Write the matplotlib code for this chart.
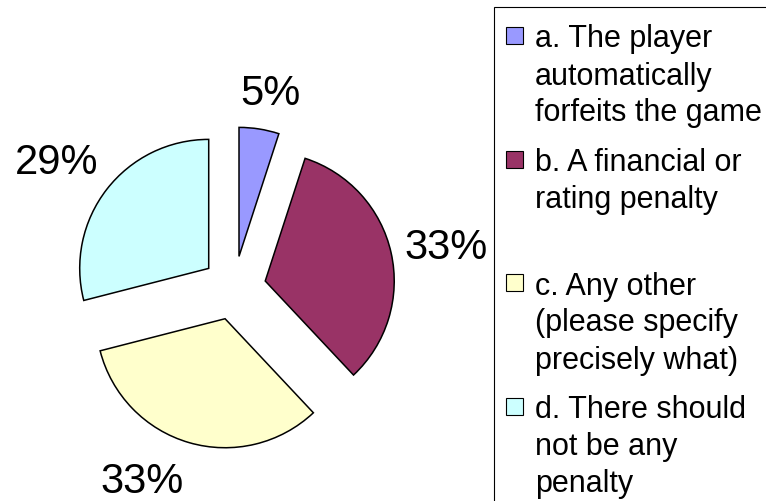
import numpy as np
import matplotlib
matplotlib.use('Agg')
import matplotlib.pyplot as plt
from matplotlib.patches import Rectangle

plt.rcParams['font.family'] = ['Liberation Sans', 'DejaVu Sans']

# ---- data ----
categories = ["a. The player\nautomatically\nforfeits the game",
              "b. A financial or\nrating penalty",
              "c. Any other\n(please specify\nprecisely what)",
              "d. There should\nnot be any\npenalty"]
values = [5, 33, 33, 29]
colors = ['#9999FF', '#993366', '#FFFFCC', '#CCFFFF']

# ---- layout (pixels) ----
W, H = 766, 502
R = 129
center = (234, H - 289)
explode_px = 32
label_radius = [1.29, 1.43, 1.41, 1.44]
label_shift_deg = [-2, -2, -11, 3]

fig = plt.figure(figsize=(W / 100, H / 100), dpi=100)
ax = fig.add_axes([0, 0, 1, 1])

wedges, _ = ax.pie(values, colors=colors, startangle=90, counterclock=False,
                   radius=R, center=center, explode=[explode_px] * len(values),
                   wedgeprops=dict(edgecolor='black', linewidth=1.1))
ax.set_xlim(0, W)
ax.set_ylim(0, H)
ax.set_aspect('equal')
ax.axis('off')

total = sum(values)
for w, v, rf, sh in zip(wedges, values, label_radius, label_shift_deg):
    th = np.deg2rad((w.theta1 + w.theta2) / 2 + sh)
    cx, cy = w.center
    ax.text(cx + R * rf * np.cos(th), cy + R * rf * np.sin(th),
            "%.0f%%" % (100 * v / total), fontsize=30, ha='center', va='center')

# ---- legend (drawn manually) ----
for i, (lab, col) in enumerate(zip(categories, colors)):
    sy = H - (36.5 + 123.5 * i)
    ax.add_patch(Rectangle((506, sy - 8.5), 17, 17, facecolor=col,
                           edgecolor='black', lw=0.8, clip_on=False))
    for j, line in enumerate(lab.split('\n')):
        ax.text(535, sy - 11 - 37 * j, line, fontsize=22, va='baseline',
                ha='left', clip_on=False)
ax.add_patch(Rectangle((494, -20), 300, H - 8 + 20, fill=False,
                       edgecolor='black', lw=0.8, clip_on=False))

fig.savefig('out.png', dpi=100)
